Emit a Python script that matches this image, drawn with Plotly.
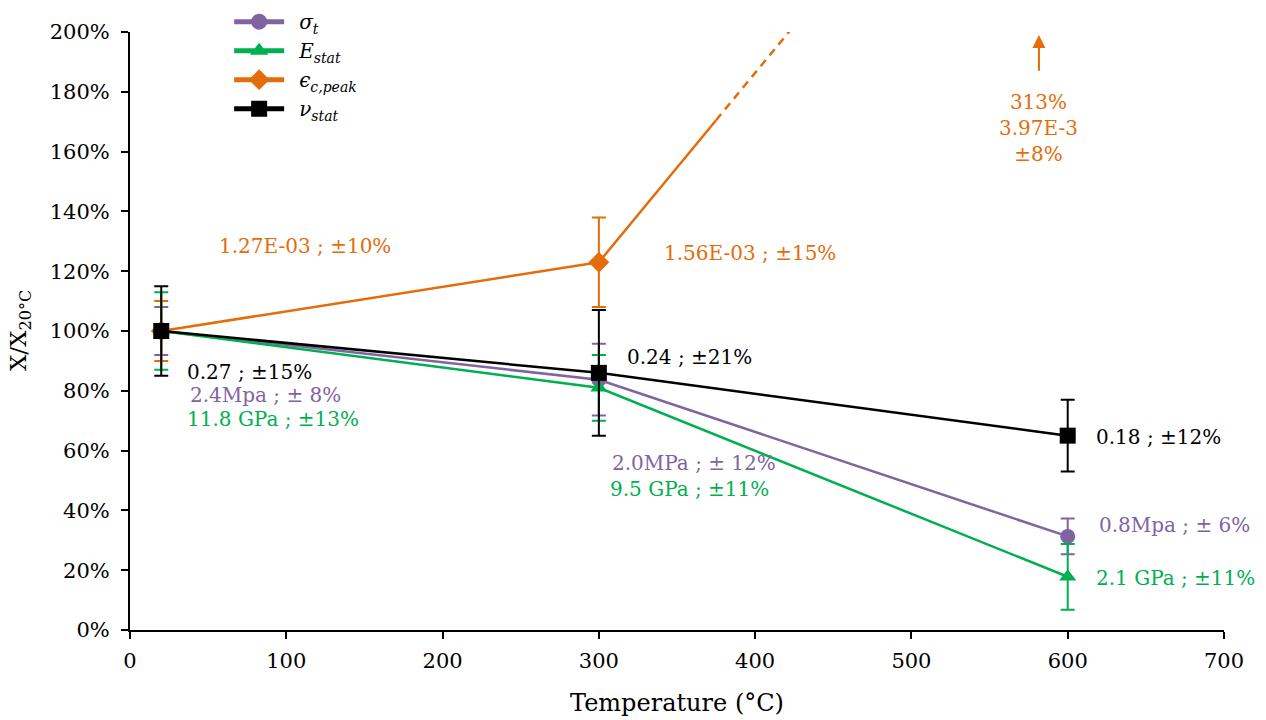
import plotly.graph_objects as go

# ---- data ----
temps = [20, 300, 600]
sigma_t = [100, 83.7, 31.3]
sigma_err = [8, 12, 6]
E_stat = [100, 81.0, 17.8]
E_err = [13, 11, 11]
eps_peak = [100, 123, 313]
eps_err = [10, 15, 8]
nu_stat = [100, 86, 65]
nu_err = [15, 21, 12]

x_ticks = [0, 100, 200, 300, 400, 500, 600, 700]
y_ticks = [0, 20, 40, 60, 80, 100, 120, 140, 160, 180, 200]
y_ticktext = [f"{v}%" for v in y_ticks]

PURPLE = "#8064A2"
GREEN = "#00B050"
ORANGE = "#E46C0A"
BLACK = "#000000"
FONT = "DejaVu Serif"

fig = go.Figure()

def add_series(y, err, color, symbol, size):
    fig.add_trace(go.Scatter(
        x=temps, y=y, mode="lines+markers", showlegend=False,
        line=dict(color=color, width=2.5),
        marker=dict(symbol=symbol, size=size, color=color),
        error_y=dict(type="data", array=err, visible=True, color=color,
                     thickness=2, width=7),
    ))

add_series(sigma_t, sigma_err, PURPLE, "circle", 15)
add_series(E_stat, E_err, GREEN, "triangle-up", 15)

# orange: measured points, continuation to 600 (off-scale)
fig.add_trace(go.Scatter(
    x=temps[:2], y=eps_peak[:2], mode="lines+markers", showlegend=False,
    line=dict(color=ORANGE, width=2.5),
    marker=dict(symbol="diamond", size=16, color=ORANGE),
    error_y=dict(type="data", array=eps_err[:2], visible=True, color=ORANGE,
                 thickness=2, width=7),
))
brk = 0.25  # fraction of segment 300->600 drawn solid
xb = temps[1] + brk * (temps[2] - temps[1])
yb = eps_peak[1] + brk * (eps_peak[2] - eps_peak[1])
fig.add_trace(go.Scatter(x=[temps[1], xb], y=[eps_peak[1], yb], mode="lines",
                         line=dict(color=ORANGE, width=2.5), showlegend=False,
                         hoverinfo="skip"))
fig.add_trace(go.Scatter(x=[xb, temps[2]], y=[yb, eps_peak[2]], mode="lines",
                         line=dict(color=ORANGE, width=2.5, dash="8px,6px"),
                         showlegend=False, hoverinfo="skip"))

add_series(nu_stat, nu_err, BLACK, "square", 16)

# legend entries (bold legend symbols)
legend_items = [
    ("\u2002<i>σ</i><sub><i>t</i></sub>", PURPLE, "circle", 17),
    ("\u2002<i>E</i><sub><i>stat</i></sub>", GREEN, "triangle-up", 17),
    ("\u2002<i>ϵ</i><sub><i>c,peak</i></sub>", ORANGE, "diamond", 18),
    ("\u2002<i>ν</i><sub><i>stat</i></sub>", BLACK, "square", 17),
]
for name, color, symbol, size in legend_items:
    fig.add_trace(go.Scatter(x=[None], y=[None], name=name, mode="lines+markers",
                             line=dict(color=color, width=5),
                             marker=dict(symbol=symbol, size=size, color=color)))

def ann(x, y, text, color, xanchor="left"):
    fig.add_annotation(x=x, y=y, text=text, showarrow=False, xanchor=xanchor,
                       yanchor="middle", font=dict(family=FONT, size=20, color=color))

ann(112, 128.4, "1.27E-03 ; ±10%", ORANGE, "center")
ann(397, 126, "1.56E-03 ; ±15%", ORANGE, "center")
ann(35, 86.3, "0.27 ; ±15%", BLACK)
ann(37, 78.6, "2.4Mpa ; ± 8%", PURPLE)
ann(35, 70.6, "11.8 GPa ; ±13%", GREEN)
ann(317, 91.3, "0.24 ; ±21%", BLACK)
ann(307, 55.9, "2.0MPa ; ± 12%", PURPLE)
ann(306, 47.2, "9.5 GPa ; ±11%", GREEN)
ann(617, 64.5, "0.18 ; ±12%", BLACK)
ann(619, 35.1, "0.8Mpa ; ± 6%", PURPLE)
ann(617, 17.4, "2.1 GPa ; ±11%", GREEN)
fig.add_annotation(x=581.6, y=167.9, text="313%<br>3.97E-3<br>±8%", showarrow=False,
                   xanchor="center", yanchor="middle", align="center",
                   font=dict(family=FONT, size=20, color=ORANGE))
fig.add_annotation(x=581.6, y=199, ax=581.6, ay=186.5, axref="x", ayref="y",
                   text="", showarrow=True, arrowhead=2, arrowsize=1.3,
                   arrowwidth=2, arrowcolor=ORANGE)
# y-axis title
fig.add_annotation(x=-0.1005, y=0.5, xref="paper", yref="paper",
                   text="X/X<sub>20°C</sub>", textangle=-90, showarrow=False,
                   xanchor="center", yanchor="middle",
                   font=dict(family=FONT, size=23, color="black"))

fig.update_layout(
    width=1266, height=720,
    paper_bgcolor="white", plot_bgcolor="white",
    margin=dict(l=130, r=42, t=32, b=90, autoexpand=False),
    font=dict(family=FONT, size=20, color="black"),
    showlegend=True,
    legend=dict(x=0.181, y=0.997, xref="container", yref="container",
                xanchor="left", yanchor="top",
                bgcolor="rgba(0,0,0,0)", font=dict(family=FONT, size=20),
                tracegroupgap=0, itemwidth=50),
    xaxis=dict(range=[0, 700], tickvals=x_ticks, showline=True, linecolor="black",
               linewidth=2, ticks="outside", ticklen=7, tickwidth=2, tickcolor="black",
               showgrid=False, zeroline=False, ticklabelstandoff=4,
               title=dict(text="Temperature (°C)", font=dict(family=FONT, size=24),
                          standoff=22),
               tickfont=dict(family=FONT, size=21)),
    yaxis=dict(range=[0, 200], tickvals=y_ticks, ticktext=y_ticktext, showline=True,
               linecolor="black", linewidth=2, ticks="outside", ticklen=7, tickwidth=2,
               tickcolor="black", showgrid=False, zeroline=False, ticklabelstandoff=7,
               tickfont=dict(family=FONT, size=21)),
)

fig.write_html("out.html", post_script="document.body.style.margin='0';",
               config={"displayModeBar": False})
